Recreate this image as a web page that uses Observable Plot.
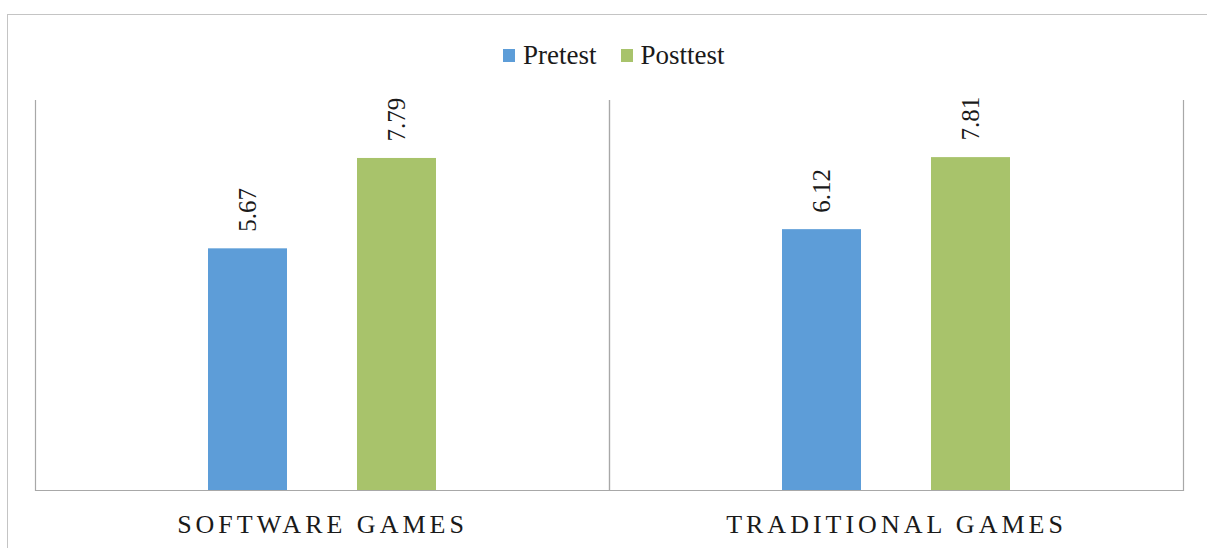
<!DOCTYPE html>
<html><head><meta charset="utf-8">
<script src="https://cdn.jsdelivr.net/npm/d3@7"></script>
<script src="https://cdn.jsdelivr.net/npm/@observablehq/plot@0.6"></script>
<style>
body{margin:0;background:#fff;}
#wrap{position:relative;width:1207px;height:548px;overflow:hidden;background:#fff;}
#wrap, #wrap *{font-family:"Liberation Serif","Times New Roman",Times,serif !important;}
#border{position:absolute;left:7px;top:14px;width:1400px;height:800px;border-left:1.5px solid #c4c4c4;border-top:1.5px solid #c4c4c4;}
#legend{position:absolute;left:503px;top:40px;display:flex;align-items:center;font-size:27px;color:#1a1a1a;white-space:nowrap;}
#legend .sw{width:12px;height:13px;display:inline-block;margin-right:8px;}
#legend .item{display:flex;align-items:center;margin-right:24px;}
#chart{position:absolute;left:0;top:80px;}
#chart [aria-label="fx-axis tick label"] text{letter-spacing:4px;}
</style>
</head><body>
<div id="wrap">
  <div id="border"></div>
  <div id="legend"></div>
  <div id="chart"></div>
</div>
<script>
const categories = ["SOFTWARE GAMES", "TRADITIONAL GAMES"];
const tests = ["Pretest", "Posttest"];
const pretest = [5.67, 6.12];
const posttest = [7.79, 7.81];
const seriesColors = ["#5d9dd8", "#a8c36b"];

const rows = [];
categories.forEach((c, i) => {
  rows.push({category: c, test: tests[0], value: pretest[i]});
  rows.push({category: c, test: tests[1], value: posttest[i]});
});

const legend = document.getElementById("legend");
tests.forEach((t, i) => {
  const item = document.createElement("span");
  item.className = "item";
  const sw = document.createElement("span");
  sw.className = "sw";
  sw.style.background = seriesColors[i];
  const lab = document.createElement("span");
  lab.textContent = t;
  item.appendChild(sw); item.appendChild(lab);
  legend.appendChild(item);
});

const plot = Plot.plot({
  width: 1207,
  height: 468,
  marginTop: 20,
  marginBottom: 58,
  marginLeft: 35,
  marginRight: 24,
  style: {fontFamily: "'Liberation Serif','Times New Roman',serif", background: "transparent"},
  fx: {domain: categories, padding: 0, label: null, axis: null},
  x: {domain: tests, paddingInner: 0.47, paddingOuter: 1.161, axis: null},
  y: {domain: [0, 9.15], axis: null},
  color: {domain: tests, range: seriesColors},
  marks: [
    Plot.frame({anchor: "left", stroke: "#a8a8a8", strokeWidth: 1.2}),
    Plot.frame({anchor: "right", stroke: "#a8a8a8", strokeWidth: 1.2}),
    Plot.barY(rows, {fx: "category", x: "test", y: "value", fill: "test"}),
    Plot.ruleY([0], {stroke: "#a8a8a8", strokeWidth: 1.2}),
    Plot.text(rows, {fx: "category", x: "test", y: "value", text: d => d.value.toFixed(2),
      rotate: -90, textAnchor: "start", lineAnchor: "middle", dy: -17, fontSize: 25, fill: "#1a1a1a"}),
    Plot.axisFx({anchor: "bottom", tickSize: 0, tickPadding: 24, fontSize: 26, label: null, fill: "#1a1a1a"})
  ]
});
document.getElementById("chart").appendChild(plot);
</script>
</body></html>
